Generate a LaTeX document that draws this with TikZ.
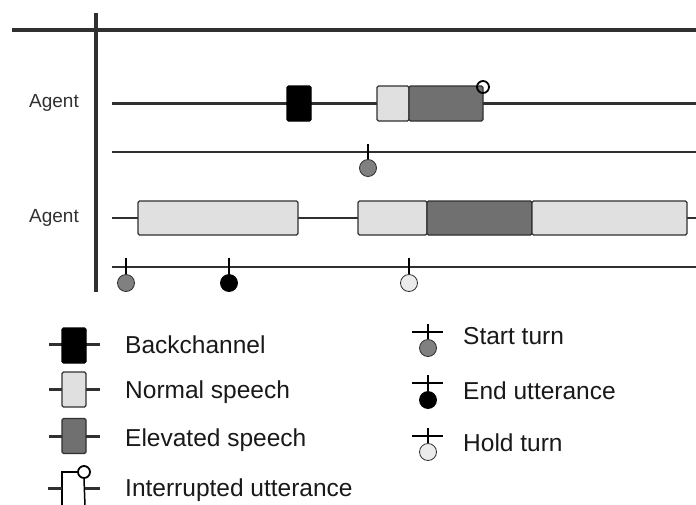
\documentclass[tikz,border=0pt]{standalone}
\usepackage{fontspec}
\setmainfont{Liberation Sans}
\definecolor{ink}{HTML}{303030}
\definecolor{lightg}{HTML}{E0E0E0}
\definecolor{darkg}{HTML}{707070}
\definecolor{midg}{HTML}{808080}
\definecolor{holdg}{HTML}{EBEBEB}
\tikzset{
  axisline/.style={line width=4pt, draw=ink},
  track/.style={line width=2.2pt, draw=ink},
  seg/.style={draw=ink, line width=1.3pt, rounded corners=1.5pt, inner sep=0pt, minimum height=35pt, rectangle},
  bc/.style={seg, fill=black, draw=black},
  norm/.style={seg, fill=lightg},
  elev/.style={seg, fill=darkg},
  tick/.style={line width=2.2pt, draw=black},
  dot/.style={circle, draw=ink, line width=0.8pt, minimum size=17pt, inner sep=0pt},
  startdot/.style={dot, fill=midg},
  enddot/.style={dot, fill=black, draw=black},
  holddot/.style={dot, fill=holdg},
  intr/.style={circle, draw=black, line width=1.8pt, minimum size=12pt, inner sep=0pt},
  agentlbl/.style={anchor=east, font=\fontsize{19}{21}\selectfont, text=ink, inner sep=0pt},
  legtxt/.style={anchor=west, font=\fontsize{24.5}{27}\selectfont, text=black!90, inner sep=0pt},
  legline/.style={line width=3pt, draw=ink},
}
\begin{document}
\begin{tikzpicture}[x=1pt,y=-1pt]
\useasboundingbox (0,0) rectangle (696,504);
% axes
\coordinate (ha) at (12,30); \coordinate (hb) at (696,30);
\coordinate (va) at (96,13); \coordinate (vb) at (96,292);
\draw[axisline] (ha) -- (hb);
\draw[axisline] (va) -- (vb);
% labels
\node[agentlbl] (ag1) at (79,103) {Agent};
\node[agentlbl] (ag2) at (79,218) {Agent};
% tracks
\coordinate (t1a) at (112,103.5); \coordinate (t1b) at (696,103.5);
\coordinate (t2a) at (112,152);   \coordinate (t2b) at (696,152);
\coordinate (t3a) at (112,218);   \coordinate (t3b) at (696,218);
\coordinate (t4a) at (112,267);   \coordinate (t4b) at (696,267);
\draw[track] (t1a) -- (t1b);
\draw[track] (t2a) -- (t2b);
\draw[track] (t3a) -- (t3b);
\draw[track] (t4a) -- (t4b);
% row 1
\node[bc, minimum width=24pt] (b1) at (299,103.5) {};
\node[norm, minimum width=32pt] (n1) at (393,103.5) {};
\node[elev, minimum width=74pt] (e1) at (446,103.5) {};
\node[intr] (i1) at (483,87) {};
% row 2
\node[startdot] (s2) at (368,168) {};
\coordinate (s2t) at (368,144);
\draw[tick] (s2t) -- (s2.north);
% row 3
\node[norm, minimum width=160pt, minimum height=34pt] (n3a) at (218,218) {};
\node[norm, minimum width=69pt, minimum height=34pt] (n3b) at (392.5,218) {};
\node[elev, minimum width=105pt, minimum height=34pt] (e3) at (479.5,218) {};
\node[norm, minimum width=155pt, minimum height=34pt] (n3c) at (609.5,218) {};
% row 4
\node[startdot] (s4) at (126,283) {};
\node[enddot] (d4) at (229,283) {};
\node[holddot] (h4) at (409,283) {};
\coordinate (s4t) at (126,258); \coordinate (d4t) at (229,258); \coordinate (h4t) at (409,258);
\draw[tick] (s4t) -- (s4.north);
\draw[tick] (d4t) -- (d4.north);
\draw[tick] (h4t) -- (h4.north);
% legend left
\coordinate (l1a) at (49,344); \coordinate (l1b) at (100,344);
\draw[legline] (l1a) -- (l1b);
\node[bc, minimum width=24pt] (lb) at (74,345.5) {};
\node[legtxt] (tb) at (125,345) {Backchannel};
\coordinate (l2a) at (49,389); \coordinate (l2b) at (100,389);
\draw[legline] (l2a) -- (l2b);
\node[norm, minimum width=24pt] (ln) at (74,389.5) {};
\node[legtxt] (tn) at (125,392) {Normal speech};
\coordinate (l3a) at (49,436); \coordinate (l3b) at (100,436);
\draw[legline] (l3a) -- (l3b);
\node[elev, minimum width=24pt] (le) at (74,436) {};
\node[legtxt] (te) at (125,440) {Elevated speech};
% interrupted legend
\node[intr] (li) at (84,472) {};
\coordinate (lia) at (62,506); \coordinate (lib) at (62,472);
\coordinate (lic) at (85,506);
\draw[line width=1.5pt, draw=black] (lia) -- (lib) -- (li.west);
\draw[line width=1.5pt, draw=black] (li.south) -- (lic);
\coordinate (l4a) at (48,488); \coordinate (l4b) at (62,488);
\coordinate (l4c) at (85,488); \coordinate (l4d) at (100,488);
\draw[legline] (l4a) -- (l4b);
\draw[legline] (l4c) -- (l4d);
\node[legtxt] (ti) at (125,490) {Interrupted utterance};
% legend right
\coordinate (r1a) at (412,332); \coordinate (r1b) at (443,332); \coordinate (r1t) at (428,324);
\node[startdot] (rs) at (428,348) {};
\draw[tick] (r1a) -- (r1b);
\draw[tick] (r1t) -- (rs.north);
\node[legtxt] (ts) at (463,336) {Start turn};
\coordinate (r2a) at (412,383); \coordinate (r2b) at (443,383); \coordinate (r2t) at (428,375);
\node[enddot] (re) at (428,400) {};
\draw[tick] (r2a) -- (r2b);
\draw[tick] (r2t) -- (re.north);
\node[legtxt] (tu) at (463,391) {End utterance};
\coordinate (r3a) at (412,436); \coordinate (r3b) at (443,436); \coordinate (r3t) at (428,428);
\node[holddot] (rh) at (428,452) {};
\draw[tick] (r3a) -- (r3b);
\draw[tick] (r3t) -- (rh.north);
\node[legtxt] (th) at (463,443) {Hold turn};
\end{tikzpicture}
\end{document}
